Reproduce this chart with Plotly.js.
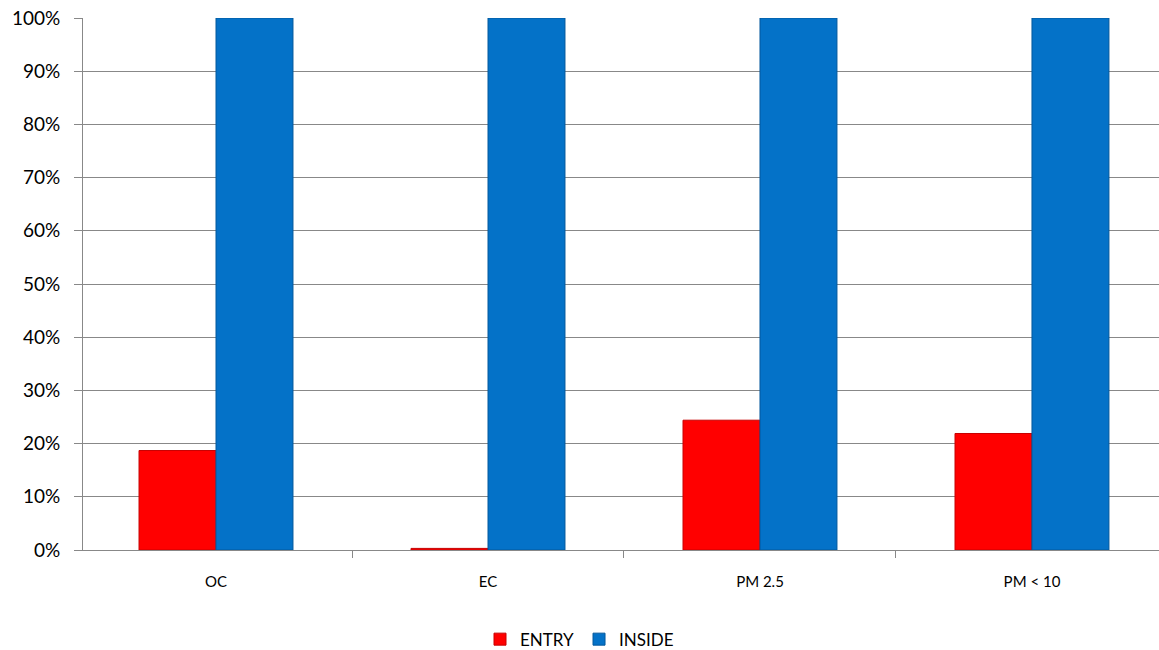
<!DOCTYPE html>
<html>
<head>
<meta charset="utf-8">
<script src="https://cdn.plot.ly/plotly-3.0.1.min.js"></script>
<style>html,body{margin:0;padding:0;background:#fff;}#chart{width:1159px;height:650px;}</style>
</head>
<body>
<div id="chart"></div>
<script>
const categories = ["OC", "EC", "PM 2.5", "PM < 10"];
const entryValues = [18.7, 0.3, 24.4, 21.9];
const insideValues = [100, 100, 100, 100];
const yTickValues = [0, 10, 20, 30, 40, 50, 60, 70, 80, 90, 100];
const yTickLabels = ["0%", "10%", "20%", "30%", "40%", "50%", "60%", "70%", "80%", "90%", "100%"];

const fontFam = "Lato, 'Open Sans', sans-serif";

const traces = [
  {
    type: "bar", name: "ENTRY", x: categories, y: entryValues,
    marker: {color: "#ff0000", line: {color: "#c80000", width: 1}}
  },
  {
    type: "bar", name: "INSIDE", x: categories, y: insideValues,
    marker: {color: "#0472c8", line: {color: "#03589c", width: 1}}
  }
];

const layout = {
  width: 1159, height: 650,
  margin: {l: 83, r: 0, t: 18, b: 100},
  paper_bgcolor: "#fff", plot_bgcolor: "#fff",
  barmode: "group", bargap: 0.434, bargroupgap: 0,
  showlegend: true,
  font: {family: fontFam, color: "#000"},
  xaxis: {
    type: "category",
    range: [-0.489, 3.467],
    tickson: "boundaries",
    ticks: "outside", ticklen: 7, tickcolor: "#888",
    showgrid: false,
    showline: true, linecolor: "#888", linewidth: 1,
    tickfont: {size: 15, family: fontFam},
    ticklabelstandoff: 18
  },
  yaxis: {
    range: [0, 100],
    tickvals: yTickValues, ticktext: yTickLabels,
    ticks: "outside", ticklen: 8, tickcolor: "#888",
    showgrid: true, gridcolor: "#888888", gridwidth: 1,
    showline: true, linecolor: "#888", linewidth: 1,
    zeroline: false,
    tickfont: {size: 19, family: fontFam},
    ticklabelstandoff: 10
  },
  legend: {
    orientation: "h",
    xref: "container", yref: "container",
    x: 0.5, xanchor: "center",
    y: 0.016, yanchor: "middle",
    font: {size: 17, family: fontFam},
    itemwidth: 30, traceorder: "normal"
  }
};

Plotly.newPlot("chart", traces, layout, {displayModeBar: false, staticPlot: true});
</script>
</body>
</html>
